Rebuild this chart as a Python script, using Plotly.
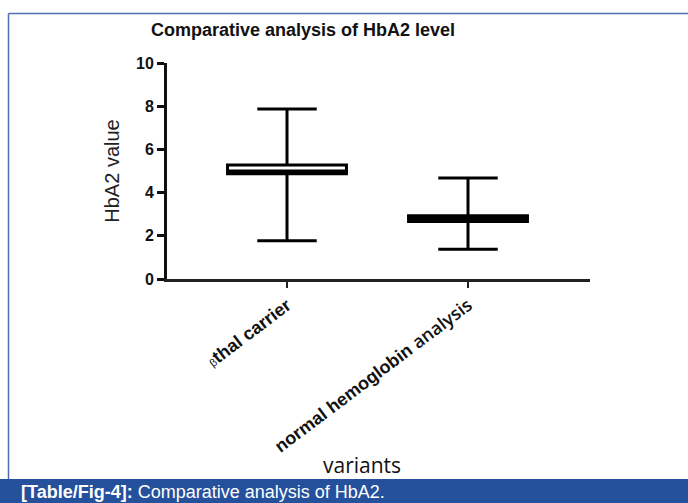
import plotly.graph_objects as go

# ---- data ----
categories = ["beta thal carrier", "normal hemoglobin analysis"]
tick_labels = [
    "<span style='font-size:11px;font-weight:normal'>β</span>thal carrier",
    "normal hemoglobin <span style='font-family:Open Sans;font-weight:600'>analysis</span>",
]
lower_fence = [1.77, 1.38]
q1_vals = [4.87, 2.66]
median_vals = [5.0, 2.8]
q3_vals = [5.28, 2.93]
upper_fence = [7.87, 4.68]
y_ticks = [0, 2, 4, 6, 8, 10]

title_text = "Comparative analysis of HbA2 level"
y_title = "HbA2 value"
x_title = "variants"
caption = "<b>[Table/Fig-4]:</b> Comparative analysis of HbA2."

# ---- layout geometry (pixels) ----
W, H = 688, 503
L, R, T, B = 167, 590, 63, 279


def px(x):
    return (x - L) / (R - L)


def py(y):
    return (B - y) / (B - T)


fig = go.Figure()
fig.add_trace(go.Box(
    x=categories,
    q1=q1_vals,
    median=median_vals,
    q3=q3_vals,
    lowerfence=lower_fence,
    upperfence=upper_fence,
    boxpoints=False,
    fillcolor="white",
    line=dict(color="black", width=3),
    whiskerwidth=0.5,
    width=0.657,
    showlegend=False,
    hoverinfo="skip",
))

border_color = "#4f70b0"
band_color = "#25509c"

fig.update_layout(
    width=W, height=H,
    margin=dict(l=L, r=W - R, t=T, b=H - B, pad=0),
    paper_bgcolor="white",
    plot_bgcolor="white",
    font=dict(family="Liberation Sans, Arial, sans-serif", color="black"),
    title=dict(
        text=title_text,
        font=dict(size=18, weight="bold", color="#111"),
        xref="container", yref="container",
        x=303 / W, xanchor="center",
        y=1 - 30 / H, yanchor="middle",
    ),
    xaxis=dict(
        type="category",
        range=[-0.663, 1.674],
        tickmode="array",
        tickvals=categories,
        ticktext=tick_labels,
        tickangle=-37,
        tickfont=dict(size=18, weight="bold", color="#111"),
        showline=True, linecolor="#222", linewidth=3,
        ticks="outside", ticklen=6, tickwidth=2, tickcolor="#222",
        showgrid=False, zeroline=False,
        automargin=False,
    ),
    yaxis=dict(
        range=[0, 10],
        tickmode="array",
        tickvals=y_ticks,
        tickfont=dict(size=16, weight="bold", color="#111"),
        showline=True, linecolor="#111", linewidth=3,
        ticks="outside", ticklen=7, tickwidth=3, tickcolor="#111",
        showgrid=False, zeroline=False,
        title=dict(text=y_title,
                   font=dict(family="Liberation Sans Narrow, Arial Narrow, Liberation Sans, sans-serif",
                             size=20, color="#222"),
                   standoff=12),
        automargin=False,
    ),
    shapes=[
        dict(type="rect", xref="paper", yref="paper",
             x0=px(0), x1=px(W), y0=py(H + 2), y1=py(479),
             fillcolor=band_color, line=dict(width=0), layer="below"),
        dict(type="line", xref="paper", yref="paper",
             x0=px(8.5), x1=px(W + 2), y0=py(13.5), y1=py(13.5),
             line=dict(color=border_color, width=1.5)),
        dict(type="line", xref="paper", yref="paper",
             x0=px(8.5), x1=px(8.5), y0=py(13.5), y1=py(479),
             line=dict(color=border_color, width=1.5)),
    ],
    annotations=[
        dict(text=x_title, xref="paper", yref="paper",
             x=px(362), y=py(465), xanchor="center", yanchor="middle",
             showarrow=False,
             font=dict(family="Open Sans, sans-serif", size=21, color="#111")),
        dict(text=caption, xref="paper", yref="paper",
             x=px(19), y=py(492), xanchor="left", yanchor="middle",
             showarrow=False,
             font=dict(family="Liberation Sans, Arial, sans-serif", size=18, color="white")),
    ],
)

fig.write_html("out.html")
